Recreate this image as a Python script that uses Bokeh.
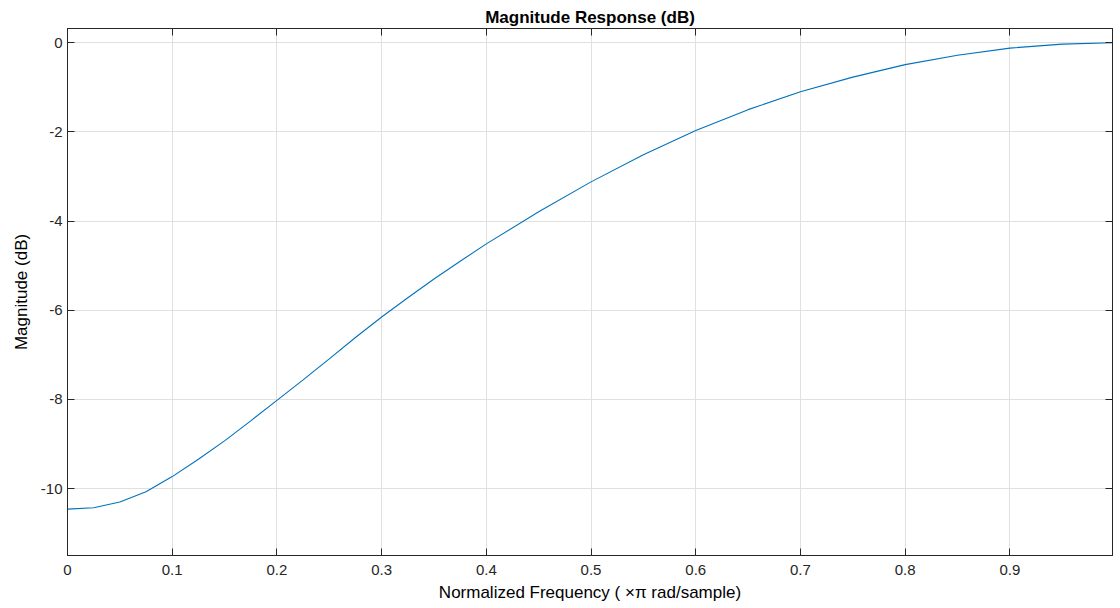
from bokeh.plotting import figure
from bokeh.models import LinearAxis, FixedTicker, Range1d
from bokeh.embed import file_html
from bokeh.resources import INLINE

# Data
freq = [0, 0.025, 0.05, 0.075, 0.1, 0.125, 0.15, 0.175, 0.2, 0.225, 0.25, 0.275,
        0.3, 0.325, 0.35, 0.375, 0.4, 0.45, 0.5, 0.55, 0.6, 0.65, 0.7, 0.75,
        0.8, 0.85, 0.9, 0.95, 0.998]
mag_db = [-10.46, -10.43, -10.30, -10.07, -9.73, -9.34, -8.93, -8.48, -8.02, -7.56,
          -7.09, -6.61, -6.15, -5.72, -5.30, -4.90, -4.51, -3.79, -3.12, -2.51,
          -1.97, -1.50, -1.10, -0.77, -0.49, -0.28, -0.12, -0.03, 0.0]

x_ticks = [0, 0.1, 0.2, 0.3, 0.4, 0.5, 0.6, 0.7, 0.8, 0.9]
x_tick_labels = ["0", "0.1", "0.2", "0.3", "0.4", "0.5", "0.6", "0.7", "0.8", "0.9"]
y_ticks = [0, -2, -4, -6, -8, -10]
y_tick_labels = ["0", "-2", "-4", "-6", "-8", "-10"]

FONT = "Liberation Sans"
AX = "#262626"

p = figure(width=1113, height=604, output_backend="svg", toolbar_location=None,
           x_range=Range1d(0, 0.998), y_range=Range1d(-11.5, 0.32),
           min_border_left=67, min_border_right=1, min_border_top=28, min_border_bottom=47)

p.title.text = "Magnitude Response (dB)"
p.title.text_font = FONT
p.title.text_font_size = "17px"
p.title.text_font_style = "bold"
p.title.align = "center"
p.title.text_color = "#000000"
p.title.offset = 0
p.title.standoff = 3

p.line(freq, mag_db, line_color="#0072BD", line_width=1.1)

def style_axis(ax, ticks, labels):
    ax.ticker = FixedTicker(ticks=ticks)
    ax.major_label_overrides = dict(zip(ticks, labels))
    ax.major_tick_in = 7
    ax.major_tick_out = 0
    ax.minor_tick_in = 0
    ax.minor_tick_out = 0
    ax.axis_line_color = AX
    ax.major_tick_line_color = AX
    ax.major_label_text_font = FONT
    ax.major_label_text_font_size = "15px"
    ax.major_label_text_color = AX
    ax.axis_label_text_font = FONT
    ax.axis_label_text_font_size = "17px"
    ax.axis_label_text_font_style = "normal"
    ax.axis_label_text_color = "#000000"

xa = p.xaxis[0]
style_axis(xa, x_ticks, x_tick_labels)
xa.axis_label = "Normalized Frequency ( \u00d7\u03c0 rad/sample)"
xa.major_label_standoff = 9
xa.axis_label_standoff = 5

ya = p.yaxis[0]
style_axis(ya, y_ticks, y_tick_labels)
ya.axis_label = "Magnitude (dB)"
ya.major_label_standoff = 5
ya.axis_label_standoff = 7

# Box-style ticks on the top and right edges (no labels drawn)
top = LinearAxis()
style_axis(top, x_ticks, x_tick_labels)
top.major_label_text_color = None
top.major_label_text_font_size = "1px"
top.major_label_standoff = 0
p.add_layout(top, "above")

right = LinearAxis()
style_axis(right, y_ticks, y_tick_labels)
right.major_label_text_color = None
right.major_label_text_font_size = "1px"
right.major_label_standoff = 0
p.add_layout(right, "right")

p.xgrid.ticker = FixedTicker(ticks=x_ticks)
p.ygrid.ticker = FixedTicker(ticks=y_ticks)
p.grid.grid_line_color = "#e0e0e0"
p.grid.grid_line_width = 1
p.outline_line_color = AX
p.background_fill_color = "white"
p.border_fill_color = "white"

open("out.html", "w").write(file_html(p, INLINE))
